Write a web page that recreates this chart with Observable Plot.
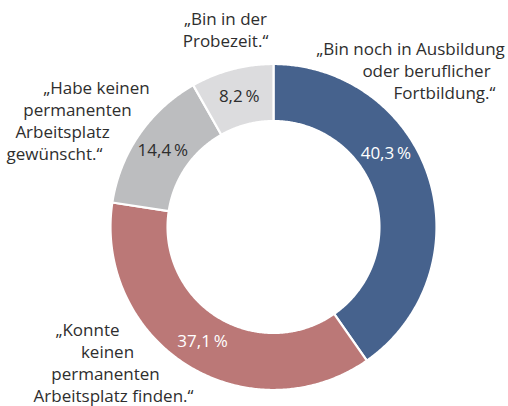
<!DOCTYPE html>
<html>
<head>
<meta charset="utf-8">
<script src="https://cdn.jsdelivr.net/npm/d3@7"></script>
<script src="https://cdn.jsdelivr.net/npm/@observablehq/plot@0.6"></script>
<style>
  html, body { margin: 0; padding: 0; background: #fff; }
</style>
</head>
<body>
<div id="chart"></div>
<script>
// ---- data ----
const categories = [
  "Bin noch in Ausbildung oder beruflicher Fortbildung.",
  "Konnte keinen permanenten Arbeitsplatz finden.",
  "Habe keinen permanenten Arbeitsplatz gewünscht.",
  "Bin in der Probezeit."
];
const shares = [40.3, 37.1, 14.4, 8.2];
const shareLabels = ["40,3\u2009%", "37,1\u2009%", "14,4\u2009%", "8,2\u2009%"];
const calloutLines = [
  ["„Bin noch in Ausbildung", "oder beruflicher", "Fortbildung.“"],
  ["„Konnte", "keinen", "permanenten", "Arbeitsplatz finden.“"],
  ["„Habe keinen", "permanenten", "Arbeitsplatz", "gewünscht.“"],
  ["„Bin in der", "Probezeit.“"]
];
const sliceColors = ["#46628d", "#bb7877", "#bcbdbf", "#dcdcde"];
const labelColors = ["#ffffff", "#ffffff", "#2e2e2e", "#2e2e2e"];

// ---- layout ----
const W = 508, H = 406;
const cx = 273, cy = 226.5, R = 163;
const innerRatio = 0.65;
const labelRadius = (1 + innerRatio) / 2;
const fontFamily = "'Open Sans', 'Noto Sans', sans-serif";
const fontSize = 17;
const lineHeight = 22;
// callout placement (pixel centres of each line, first-line baseline)
const calloutLayout = [
  {xs: [410, 426, 444], base: 54},
  {xs: [87, 107, 105, 113], base: 335},
  {xs: [96, 77, 62, 54], base: 93},
  {xs: [225, 225], base: 24}
];
// blue value label is placed off its slice midpoint, mirrored to the grey one
const labelAngleOverride = {0: 56.7};

// ---- geometry from data ----
const total = d3.sum(shares);
let acc = 0;
const slices = shares.map((v, i) => {
  const a0 = acc / total * 360;
  acc += v;
  const a1 = acc / total * 360;
  return {i, category: categories[i], a0, a1};
});
const rad = a => a * Math.PI / 180;
const ringPoints = [];
for (const s of slices) {
  const n = Math.max(8, Math.ceil((s.a1 - s.a0) / 0.5));
  for (let k = 0; k <= n; k++) {
    const a = rad(s.a0 + (s.a1 - s.a0) * k / n);
    ringPoints.push({category: s.category, x: Math.sin(a), y: Math.cos(a)});
  }
  for (let k = n; k >= 0; k--) {
    const a = rad(s.a0 + (s.a1 - s.a0) * k / n);
    ringPoints.push({category: s.category, x: innerRatio * Math.sin(a), y: innerRatio * Math.cos(a)});
  }
}
const valueLabels = slices.map(s => {
  const ang = rad(labelAngleOverride[s.i] ?? (s.a0 + s.a1) / 2);
  return {i: s.i, text: shareLabels[s.i], x: labelRadius * Math.sin(ang), y: labelRadius * Math.cos(ang)};
});
const toUX = px => (px - cx) / R;
const toUY = py => (cy - py) / R;
const calloutData = [];
calloutLines.forEach((lines, i) => {
  lines.forEach((t, j) => {
    const baseline = calloutLayout[i].base + j * lineHeight;
    calloutData.push({text: t, x: toUX(calloutLayout[i].xs[j]), y: toUY(baseline - 0.32 * fontSize)});
  });
});

const chart = Plot.plot({
  width: W,
  height: H,
  marginLeft: cx - R,
  marginRight: W - (cx + R),
  marginTop: cy - R,
  marginBottom: H - (cy + R),
  x: {domain: [-1, 1], axis: null},
  y: {domain: [-1, 1], axis: null},
  color: {domain: categories, range: sliceColors},
  style: {fontFamily, fontSize: fontSize + "px", background: "#fff", overflow: "visible"},
  marks: [
    Plot.line(ringPoints, {x: "x", y: "y", z: "category", fill: "category", stroke: "#fff", strokeWidth: 2.2, curve: "linear-closed"}),
    Plot.text(valueLabels, {x: "x", y: "y", text: "text", fill: d => labelColors[d.i], fontSize, lineAnchor: "middle"}),
    Plot.text(calloutData, {x: "x", y: "y", text: "text", fill: "#2e2e2e", fontSize, textAnchor: "middle", lineAnchor: "middle"})
  ]
});
document.getElementById("chart").appendChild(chart);
</script>
</body>
</html>
